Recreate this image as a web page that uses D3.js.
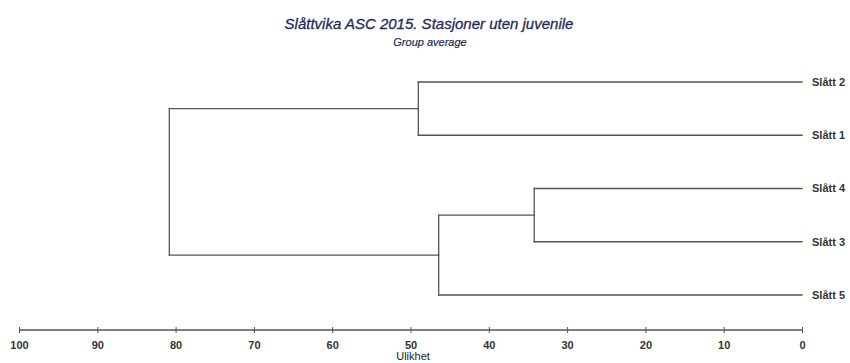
<!DOCTYPE html>
<html>
<head>
<meta charset="utf-8">
<script src="https://cdn.jsdelivr.net/npm/d3@7"></script>
<style>
  html, body { margin: 0; padding: 0; background: #fff; }
  svg { display: block; font-family: "Liberation Sans", Arial, sans-serif; }
</style>
</head>
<body>
<svg id="chart" width="850" height="363"></svg>
<script>
// ---- data ----
const title = "Slåttvika ASC 2015. Stasjoner uten juvenile";
const subtitle = "Group average";
const axisLabel = "Ulikhet";
const leaves = ["Slått 2", "Slått 1", "Slått 4", "Slått 3", "Slått 5"];
// merges: node ids 0..4 are leaves; each merge creates node 5, 6, ...
const mergeLeft = [0, 2, 6, 5];
const mergeRight = [1, 3, 4, 7];
const mergeHeight = [49.0, 34.2, 46.4, 80.8];
const tickValues = [100, 90, 80, 70, 60, 50, 40, 30, 20, 10, 0];

// ---- layout ----
const svg = d3.select("#chart");
const x = d3.scaleLinear().domain([100, 0]).range([19, 802]);
const y = d3.scalePoint().domain(leaves).range([82, 295]);

const lineColor = "#555";
const textColor = "#222";

// node positions
const nodes = leaves.map(name => ({ y: y(name), h: 0 }));
mergeLeft.forEach((l, i) => {
  const a = nodes[l], b = nodes[mergeRight[i]];
  nodes.push({ y: (a.y + b.y) / 2, h: mergeHeight[i], a, b });
});

const g = svg.append("g");
const segs = [];
nodes.forEach(n => {
  if (n.a) {
    segs.push([x(n.h), n.a.y, x(n.h), n.b.y]);
    segs.push([x(n.h), n.a.y, x(n.a.h), n.a.y]);
    segs.push([x(n.h), n.b.y, x(n.b.h), n.b.y]);
  }
});
g.selectAll("line.seg").data(segs).enter().append("line")
  .attr("class", "seg")
  .attr("x1", d => d[0]).attr("y1", d => d[1])
  .attr("x2", d => d[2]).attr("y2", d => d[3])
  .attr("stroke", lineColor).attr("stroke-width", 1.3)
  .attr("stroke-linecap", "square");

// leaf labels
g.selectAll("text.leaf").data(leaves).enter().append("text")
  .attr("class", "leaf")
  .attr("x", x(0) + 10)
  .attr("y", d => y(d))
  .attr("dy", "0.35em")
  .attr("font-size", 11)
  .attr("font-weight", "bold")
  .attr("fill", "#333")
  .text(d => d);

// axis
const axis = d3.axisBottom(x).tickValues(tickValues).tickSize(4).tickPadding(7);
const ax = svg.append("g").attr("transform", "translate(0,330)").call(axis);
ax.select(".domain").attr("stroke", lineColor).attr("stroke-width", 1.3).attr("d", `M${x(100)},0H${x(0)}`);
ax.selectAll(".tick line").attr("stroke", lineColor).attr("y1", -3).attr("y2", 3);
ax.selectAll(".tick text").attr("font-size", 11).attr("font-weight", "bold")
  .attr("fill", "#333").attr("font-family", "'Liberation Sans', Arial, sans-serif");

svg.append("text")
  .attr("x", 413).attr("y", 360)
  .attr("text-anchor", "middle")
  .attr("font-size", 11).attr("fill", textColor)
  .text(axisLabel);

// titles
svg.append("text")
  .attr("x", 429).attr("y", 29)
  .attr("text-anchor", "middle")
  .attr("font-size", 15).attr("font-style", "italic")
  .attr("fill", "#252a58")
  .attr("stroke", "#252a58").attr("stroke-width", 0.3)
  .text(title);
svg.append("text")
  .attr("x", 430).attr("y", 46)
  .attr("text-anchor", "middle")
  .attr("font-size", 11).attr("font-style", "italic")
  .attr("fill", "#252a58")
  .attr("stroke", "#252a58").attr("stroke-width", 0.2)
  .text(subtitle);
</script>
</body>
</html>
